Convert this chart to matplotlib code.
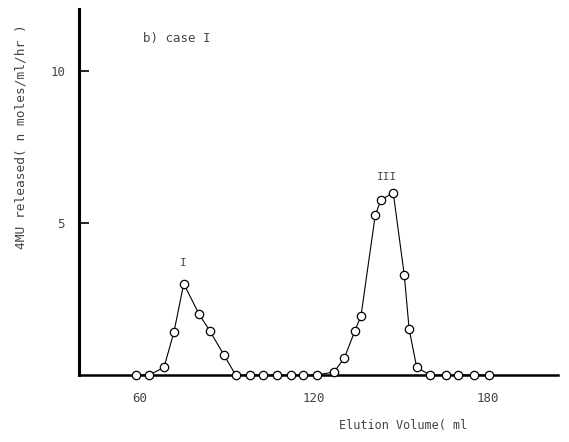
import matplotlib
matplotlib.use("Agg")
from matplotlib import pyplot as plt

# elution profile, case I
volume = [58.5, 63.2, 68.3, 71.7, 75.1, 80.4, 84.1, 89.0, 93.0, 97.9,
          102.5, 107.1, 112.1, 116.3, 121.0, 126.9, 130.4, 134.1, 136.2, 141.1,
          143.0, 147.3, 151.1, 152.8, 155.4, 160.0, 165.4, 169.8, 175.2, 180.2]
released = [0, 0, 0.25, 1.4, 3.0, 2.0, 1.45, 0.65, 0, 0,
            0, 0, 0, 0, 0, 0.1, 0.55, 1.45, 1.95, 5.25,
            5.75, 6.0, 3.3, 1.5, 0.25, 0, 0, 0, 0, 0]
x_ticks = [60, 120, 180]
y_ticks = [5, 10]
peak_names = ["I", "III"]
peak_pos = [(75.1, 3.7), (145.2, 6.5)]

plt.rcParams['font.family'] = ['DejaVu Sans Mono']
grey = '#444444'

fig = plt.figure(figsize=(5.69, 4.42), dpi=100)
ax = fig.add_axes([0.1388, 0.1516, 0.8419, 0.828])

ax.plot(volume, released, color='black', linewidth=0.8, marker='o',
        markersize=6, markerfacecolor='white', markeredgecolor='black',
        markeredgewidth=0.9, clip_on=False, zorder=3)

for name, (px, py) in zip(peak_names, peak_pos):
    ax.text(px, py, name, ha='center', va='center', fontsize=8, color=grey)

ax.text(0.134, 0.92, "b) case I", transform=ax.transAxes, fontsize=9,
        color=grey, ha='left', va='center')

ax.set_xlim(39.0, 204.1)
ax.set_ylim(0, 12.04)

for side in ['top', 'right']:
    ax.spines[side].set_visible(False)
ax.spines['left'].set_linewidth(2.2)
ax.spines['bottom'].set_linewidth(1.8)

ax.set_xticks(x_ticks)
ax.set_yticks(y_ticks)
ax.tick_params(axis='x', length=0, pad=12, labelsize=9, labelcolor=grey)
ax.tick_params(axis='y', direction='in', length=7, width=1.2, pad=10,
               labelsize=9, labelcolor=grey)

ax.set_ylabel("4MU released( n moles/ml/hr )", fontsize=9.3, color=grey)
ax.yaxis.set_label_coords(-0.108, 0.65)
ax.set_xlabel("Elution Volume( ml", fontsize=8.5, color=grey)
ax.xaxis.set_label_coords(0.676, -0.12)

fig.savefig("out.png", dpi=100)
